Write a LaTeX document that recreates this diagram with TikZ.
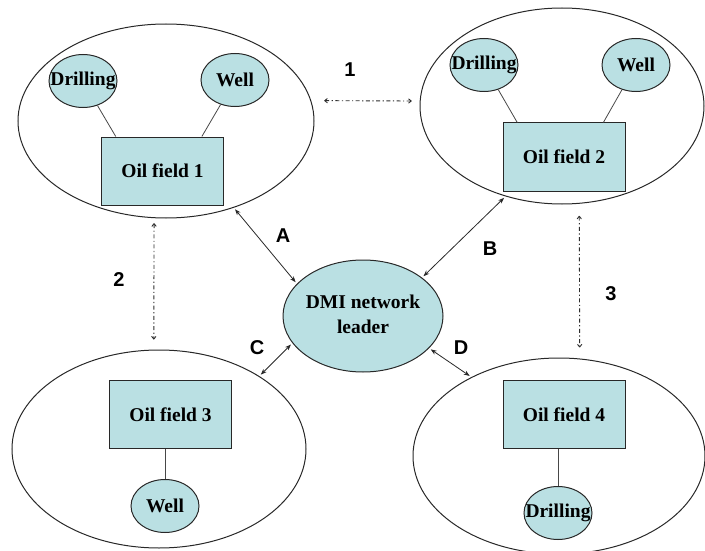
\documentclass[tikz,border=0pt]{standalone}
\usepackage{fontspec}
\setmainfont{Liberation Serif}
\newfontfamily\labelfont{Liberation Sans}
\usetikzlibrary{shapes.geometric,arrows.meta,calc}
\definecolor{nodefill}{RGB}{186,224,227}
\definecolor{edge}{RGB}{40,40,40}
\begin{document}
\begin{tikzpicture}[x=1pt,y=-1pt,
  region/.style={draw=edge, line width=1pt, ellipse, inner sep=0pt},
  unit/.style={draw=edge, line width=1pt, ellipse, fill=nodefill, inner sep=0pt,
    minimum width=68pt, minimum height=53pt, font=\bfseries\fontsize{19.5}{22}\selectfont},
  field/.style={draw=edge, line width=1pt, fill=nodefill, inner sep=0pt,
    minimum width=122pt, minimum height=68pt, font=\bfseries\fontsize{19.5}{22}\selectfont},
  link/.style={draw=edge!85, line width=0.8pt},
  lead/.style={draw=edge, line width=0.8pt, shorten <=2pt, shorten >=2pt,
    {Stealth[length=6pt,width=4.5pt]}-{Stealth[length=6pt,width=4.5pt]}},
  peer/.style={draw=gray!35!black, line width=0.9pt,
    dash pattern=on 4pt off 2.5pt on 1.2pt off 2.5pt,
    {To[length=3.5pt,width=5pt]}-{To[length=3.5pt,width=5pt]}},
  tag/.style={font=\labelfont\bfseries\fontsize{20}{22}\selectfont}
]
\useasboundingbox (0,0) rectangle (705,551);

% the four oil-field regions
\node[region, minimum width=296pt, minimum height=194pt] (e1) at (166,121) {};
\node[region, minimum width=284pt, minimum height=196pt] (e2) at (562,106) {};
\node[region, minimum width=294pt, minimum height=198pt] (e3) at (159,449) {};
\node[region, minimum width=292pt, minimum height=196pt] (e4) at (559,456) {};

% network leader
\node[region, fill=nodefill, minimum width=160pt, minimum height=112pt,
      font=\bfseries\fontsize{19.5}{25}\selectfont] (dmi) at (363,316)
      {\makebox[0pt]{\begin{tabular}{@{}c@{}}DMI network\\leader\end{tabular}}};

% oil fields
\node[field] (b1) at (162.5,171) {Oil field 1};
\node[field] (b2) at (564,157) {Oil field 2};
\node[field] (b3) at (170.5,414.5) {Oil field 3};
\node[field] (b4) at (564,414.5) {Oil field 4};

% drilling and well units
\node[unit] (d1) at (83,81) {\makebox[0pt]{Drilling}};
\node[unit] (w1) at (235,80) {\makebox[0pt]{Well}};
\node[unit] (d2) at (484,65) {\makebox[0pt]{Drilling}};
\node[unit] (w2) at (636,65) {\makebox[0pt]{Well}};
\node[unit] (w3) at (165,506) {\makebox[0pt]{Well}};
\node[unit] (d4) at (558,513) {\makebox[0pt]{Drilling}};

% unit links
\draw[link] (d1) -- ($(b1.north west)!0.12!(b1.north east)$);
\draw[link] (w1) -- ($(b1.north west)!0.82!(b1.north east)$);
\draw[link] (d2) -- ($(b2.north west)!0.12!(b2.north east)$);
\draw[link] (w2) -- ($(b2.north west)!0.82!(b2.north east)$);
\draw[link] (b3.south -| w3.north) -- (w3.north);
\draw[link] (b4.south -| d4.north) -- (d4.north);

% links to the leader
\draw[lead] (e1.-52) -- (dmi.154);
\draw[lead] (e2.-122) -- (dmi.33);
\draw[lead] (dmi.-159) -- (e3.36);
\draw[lead] (dmi.-26) -- (e4.138);

% links between neighbouring fields
\draw[peer, shorten <=13pt, shorten >=8pt] (e1.8) -- (e2.178);
\draw[peer, shorten <=5pt, shorten >=10pt] (e1.-97) -- (e3.93);
\draw[peer, shorten <=12pt, shorten >=11pt] (e2.-80) -- (e4.78);

% labels
\node[tag] (l1) at (350,70) {1};
\node[tag] (l2) at (119,280) {2};
\node[tag] (l3) at (611,294) {3};
\node[tag] (la) at (283,236) {A};
\node[tag] (lb) at (490,249) {B};
\node[tag] (lc) at (257,348) {C};
\node[tag] (ld) at (461,348) {D};
\end{tikzpicture}
\end{document}
